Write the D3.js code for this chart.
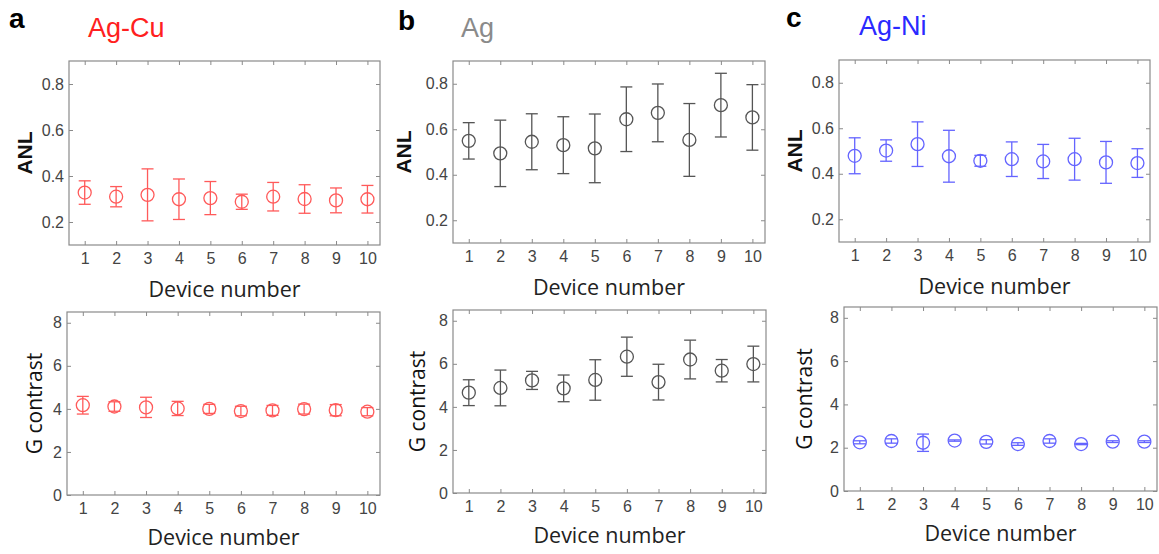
<!DOCTYPE html>
<html>
<head>
<meta charset="utf-8">
<script src="https://cdn.jsdelivr.net/npm/d3@7"></script>
<style>
  html, body { margin: 0; padding: 0; background: #ffffff; }
  svg { display: block; }
</style>
</head>
<body>
<svg id="chart" width="1159" height="554"></svg>
<script>
// ---------------- data ----------------
const devices = [1, 2, 3, 4, 5, 6, 7, 8, 9, 10];
const anlTicks = [0.2, 0.4, 0.6, 0.8];
const gTicks = [0, 2, 4, 6, 8];

const materials = ["Ag-Cu", "Ag", "Ag-Ni"];
const panelLetters = ["a", "b", "c"];

// ANL (mean and error)
const anlAgCuMean = [0.328, 0.310, 0.318, 0.299, 0.304, 0.288, 0.310, 0.300, 0.294, 0.299];
const anlAgCuErr  = [0.051, 0.044, 0.113, 0.088, 0.072, 0.033, 0.062, 0.062, 0.054, 0.060];
const anlAgMean   = [0.549, 0.494, 0.545, 0.530, 0.516, 0.644, 0.672, 0.553, 0.706, 0.652];
const anlAgErr    = [0.080, 0.146, 0.123, 0.125, 0.151, 0.142, 0.127, 0.160, 0.140, 0.144];
const anlAgNiMean = [0.479, 0.502, 0.530, 0.477, 0.457, 0.464, 0.454, 0.464, 0.450, 0.447];
const anlAgNiErr  = [0.079, 0.047, 0.098, 0.114, 0.024, 0.076, 0.075, 0.092, 0.092, 0.063];

// G contrast (mean and error)
const gAgCuMean = [4.17, 4.11, 4.07, 4.02, 4.00, 3.90, 3.93, 3.99, 3.94, 3.87];
const gAgCuErr  = [0.41, 0.22, 0.47, 0.33, 0.21, 0.22, 0.23, 0.23, 0.26, 0.19];
const gAgMean   = [4.66, 4.88, 5.23, 4.86, 5.25, 6.33, 5.15, 6.20, 5.68, 5.99];
const gAgErr    = [0.60, 0.83, 0.42, 0.62, 0.94, 0.91, 0.83, 0.90, 0.52, 0.83];
const gAgNiMean = [2.25, 2.31, 2.23, 2.33, 2.27, 2.17, 2.31, 2.17, 2.28, 2.28];
const gAgNiErr  = [0.07, 0.10, 0.40, 0.03, 0.10, 0.06, 0.10, 0.03, 0.04, 0.04];

// ---------------- styling / layout ----------------
const markColors = ["#ff5a5a", "#555555", "#6464ff"];
const titleColors = ["#ff2020", "#8a8a8a", "#2a2aff"];

const panels = [
  // top row: ANL
  {col: 0, kind: "anl", mean: anlAgCuMean, err: anlAgCuErr, left: 69,  right: 380,  top: 61, bottom: 245, xlab: 297, ylabX: 32},
  {col: 1, kind: "anl", mean: anlAgMean,   err: anlAgErr,   left: 453, right: 765,  top: 61, bottom: 243, xlab: 295, ylabX: 411},
  {col: 2, kind: "anl", mean: anlAgNiMean, err: anlAgNiErr, left: 839, right: 1150, top: 60, bottom: 242, xlab: 294, ylabX: 802},
  // bottom row: G contrast
  {col: 0, kind: "g", mean: gAgCuMean, err: gAgCuErr, left: 67,  right: 380,  top: 312, bottom: 495, xlab: 545, ylabX: 42},
  {col: 1, kind: "g", mean: gAgMean,   err: gAgErr,   left: 453, right: 766,  top: 310, bottom: 493, xlab: 543, ylabX: 425},
  {col: 2, kind: "g", mean: gAgNiMean, err: gAgNiErr, left: 844, right: 1157, top: 307, bottom: 491, xlab: 541, ylabX: 812}
];

const svg = d3.select("#chart");
const frameColor = "#8a8a8a";
const tickTextColor = "#444444";

panels.forEach(p => {
  const isAnl = p.kind === "anl";
  const x = d3.scaleLinear().domain([0.5, 10.4]).range([p.left, p.right]);
  const y = d3.scaleLinear().domain(isAnl ? [0.1, 0.9] : [0, 8.5]).range([p.bottom, p.top]);
  const yTicks = isAnl ? anlTicks : gTicks;
  const fmt = isAnl ? d3.format(".1f") : d3.format("d");
  const g = svg.append("g");

  // axes (inward ticks on all four sides)
  const axB = g.append("g").attr("transform", `translate(0,${p.bottom})`)
    .call(d3.axisBottom(x).tickValues(devices).tickSizeInner(-4).tickSizeOuter(0).tickPadding(7.5));
  const axT = g.append("g").attr("transform", `translate(0,${p.top})`)
    .call(d3.axisTop(x).tickValues(devices).tickSizeInner(-4).tickSizeOuter(0).tickFormat(""));
  const axL = g.append("g").attr("transform", `translate(${p.left},0)`)
    .call(d3.axisLeft(y).tickValues(yTicks).tickSizeInner(-4).tickSizeOuter(0).tickPadding(5).tickFormat(fmt));
  const axR = g.append("g").attr("transform", `translate(${p.right},0)`)
    .call(d3.axisRight(y).tickValues(yTicks).tickSizeInner(-4).tickSizeOuter(0).tickFormat(""));

  [axB, axT, axL, axR].forEach(a => {
    a.select(".domain").remove();
    a.selectAll(".tick line").attr("stroke", frameColor).attr("stroke-width", 1);
    a.selectAll(".tick text")
      .attr("fill", tickTextColor)
      .style("font-family", "'Liberation Sans', Arial, sans-serif")
      .style("font-size", "16px");
  });

  // frame
  g.append("rect")
    .attr("x", p.left).attr("y", p.top)
    .attr("width", p.right - p.left).attr("height", p.bottom - p.top)
    .attr("fill", "none").attr("stroke", frameColor).attr("stroke-width", 1.2);

  // error bars + markers
  const color = markColors[p.col];
  const capHalf = 6;
  const pts = devices.map((d, i) => ({d, m: p.mean[i], e: p.err[i]}));
  const eg = g.append("g").attr("stroke", color).attr("fill", "none").attr("stroke-width", 1.3);
  eg.selectAll("line.v").data(pts).join("line").attr("class", "v")
    .attr("x1", q => x(q.d)).attr("x2", q => x(q.d))
    .attr("y1", q => y(q.m - q.e)).attr("y2", q => y(q.m + q.e));
  eg.selectAll("line.ct").data(pts).join("line").attr("class", "ct")
    .attr("x1", q => x(q.d) - capHalf).attr("x2", q => x(q.d) + capHalf)
    .attr("y1", q => y(q.m + q.e)).attr("y2", q => y(q.m + q.e));
  eg.selectAll("line.cb").data(pts).join("line").attr("class", "cb")
    .attr("x1", q => x(q.d) - capHalf).attr("x2", q => x(q.d) + capHalf)
    .attr("y1", q => y(q.m - q.e)).attr("y2", q => y(q.m - q.e));
  eg.selectAll("circle").data(pts).join("circle")
    .attr("cx", q => x(q.d)).attr("cy", q => y(q.m)).attr("r", 6.5);

  // x label
  g.append("text")
    .attr("x", (p.left + p.right) / 2).attr("y", p.xlab)
    .attr("text-anchor", "middle")
    .attr("fill", "#222")
    .style("font-family", "'Open Sans', sans-serif")
    .style("font-size", "21.5px")
    .text("Device number");

  // y label
  const cy = (p.top + p.bottom) / 2;
  g.append("text")
    .attr("transform", `translate(${p.ylabX},${cy}) rotate(-90)`)
    .attr("text-anchor", "middle")
    .attr("fill", "#111")
    .style("font-family", isAnl ? "'Liberation Sans', Arial, sans-serif" : "'Open Sans', sans-serif")
    .style("font-weight", isAnl ? "bold" : "normal")
    .style("font-size", isAnl ? "21px" : "21px")
    .text(isAnl ? "ANL" : "G contrast");
});

// panel letters and material titles
const letterPos = [[9, 28], [398, 30], [786, 27]];
const titlePos = [[88, 37], [461, 37], [859, 35]];
materials.forEach((m, i) => {
  svg.append("text")
    .attr("x", letterPos[i][0]).attr("y", letterPos[i][1])
    .attr("fill", "#000")
    .style("font-family", "'Liberation Sans', Arial, sans-serif")
    .style("font-weight", "bold")
    .style("font-size", "28px")
    .text(panelLetters[i]);
  svg.append("text")
    .attr("x", titlePos[i][0]).attr("y", titlePos[i][1])
    .attr("fill", titleColors[i])
    .style("font-family", "'Liberation Sans', Arial, sans-serif")
    .style("font-size", "27px")
    .text(m);
});
</script>
</body>
</html>
